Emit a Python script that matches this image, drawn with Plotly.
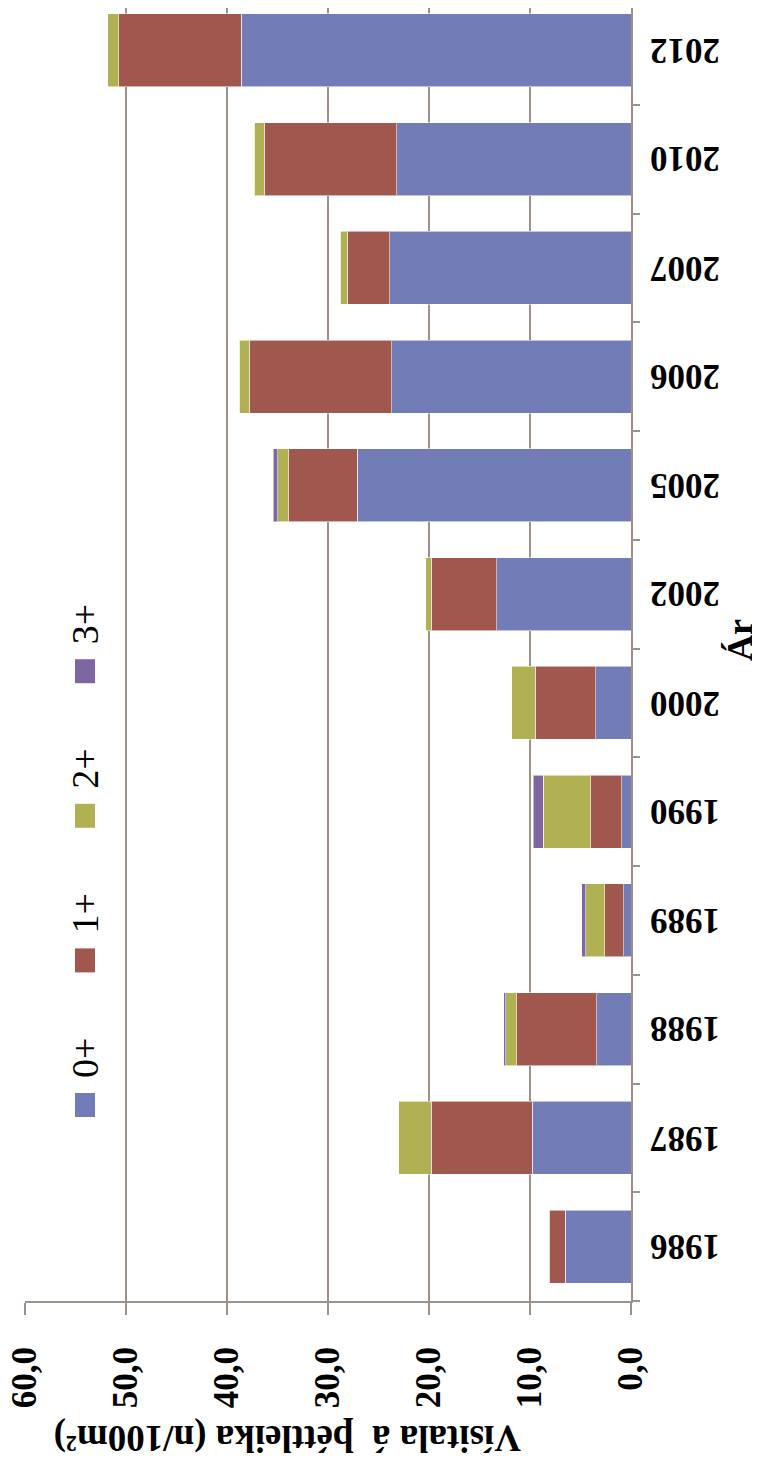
import plotly.graph_objects as go

years = ["1986", "1987", "1988", "1989", "1990", "2000", "2002", "2005", "2006", "2007", "2010", "2012"]
age0 = [6.5, 9.8, 3.4, 0.7, 0.9, 3.5, 13.3, 27.1, 23.7, 23.9, 23.2, 38.6]
age1 = [1.6, 10.0, 7.9, 1.9, 3.1, 6.0, 6.5, 6.8, 14.1, 4.2, 13.1, 12.1]
age2 = [0.05, 3.2, 1.1, 1.9, 4.7, 2.3, 0.5, 1.1, 1.0, 0.7, 1.0, 1.1]
age3 = [0.0, 0.0, 0.2, 0.4, 1.0, 0.0, 0.0, 0.4, 0.0, 0.0, 0.0, 0.0]
series_names = ["0+", "1+", "2+", "3+"]
colors = ["#727DB8", "#A0574D", "#AFB153", "#7E66A0"]
value_ticks = [0, 10, 20, 30, 40, 50, 60]
value_tick_labels = ["0,0", "10,0", "20,0", "30,0", "40,0", "50,0", "60,0"]

OFF = 8  # default page body margin
W, H = 760 - OFF, 1465 - OFF
L, R = 25 - OFF, 631 - OFF
T, B = 0, 1301 - OFF
cat_h = 108.75
top_extra = (OFF + 4) / cat_h  # reference category band starts above the page top


def px(x):
    return (x - OFF - L) / (R - L)


def py(y):
    return (B - (y - OFF)) / (B - T)


fig = go.Figure()
for name, vals, col in zip(series_names, [age0, age1, age2, age3], colors):
    fig.add_trace(go.Bar(
        y=years, x=vals, name=name, orientation="h",
        marker=dict(color=col, line=dict(color="rgba(255,255,255,0.55)", width=1)),
        showlegend=False,
    ))

grid_col = "#9C928B"
serif = "Liberation Serif"

fig.update_layout(
    width=W, height=H,
    margin=dict(l=L, r=W - R, t=T, b=H - B, autoexpand=False),
    barmode="stack", bargap=0.33,
    plot_bgcolor="white", paper_bgcolor="white",
    font=dict(family=serif, color="black"),
    xaxis=dict(
        range=[60, 0], tickvals=value_ticks, ticktext=value_tick_labels,
        tickangle=-90, tickfont=dict(family=serif, size=35, color="black", weight="bold"),
        showgrid=True, gridcolor=grid_col, gridwidth=1.5, zeroline=False,
        showline=True, linecolor=grid_col, linewidth=2,
        ticks="outside", ticklen=12, tickcolor=grid_col, tickwidth=1.5,
        ticklabelstandoff=18, ticklabeloverflow="allow",
    ),
    yaxis=dict(
        type="category", range=[-0.5, 11.5 - top_extra], side="right",
        showticklabels=False,
        showgrid=False, zeroline=False,
        showline=True, linecolor=grid_col, linewidth=2,
        ticks="outside", ticklen=7, tickcolor=grid_col, tickwidth=1.5,
        tickson="boundaries",
    ),
)

# category labels, upside-down as in the reference (placed by category index)
for i, yr in enumerate(years):
    fig.add_annotation(text=yr, textangle=180, x=px(685), y=i,
                       xref="paper", yref="y", xanchor="center", yanchor="middle",
                       showarrow=False,
                       font=dict(family=serif, size=35, color="black", weight="bold"))

# axis titles (rotated as in reference)
fig.add_annotation(text="Vísitala á  þéttleika (n/100m²)", textangle=180,
                   x=px(288), y=py(1438), xref="paper", yref="paper",
                   xanchor="center", yanchor="middle", showarrow=False,
                   font=dict(family=serif, size=37, color="black", weight="bold"))
fig.add_annotation(text="Ár", textangle=-90,
                   x=px(740), y=py(640), xref="paper", yref="paper",
                   xanchor="center", yanchor="middle", showarrow=False,
                   font=dict(family=serif, size=36, color="black", weight="bold"))

# legend drawn manually (rotated text)
for i, (name, col) in enumerate(zip(series_names, colors)):
    sy = 1093 - i * 144.6
    fig.add_shape(type="rect", xref="paper", yref="paper",
                  x0=px(75), x1=px(95), y0=py(sy + 24), y1=py(sy),
                  fillcolor=col, line=dict(width=0))
    fig.add_annotation(text=name, textangle=-90,
                       x=px(85), y=py(sy - 35), xref="paper", yref="paper",
                       xanchor="center", yanchor="middle", showarrow=False,
                       font=dict(family=serif, size=38, color="black"))

fig.write_html("out.html")
